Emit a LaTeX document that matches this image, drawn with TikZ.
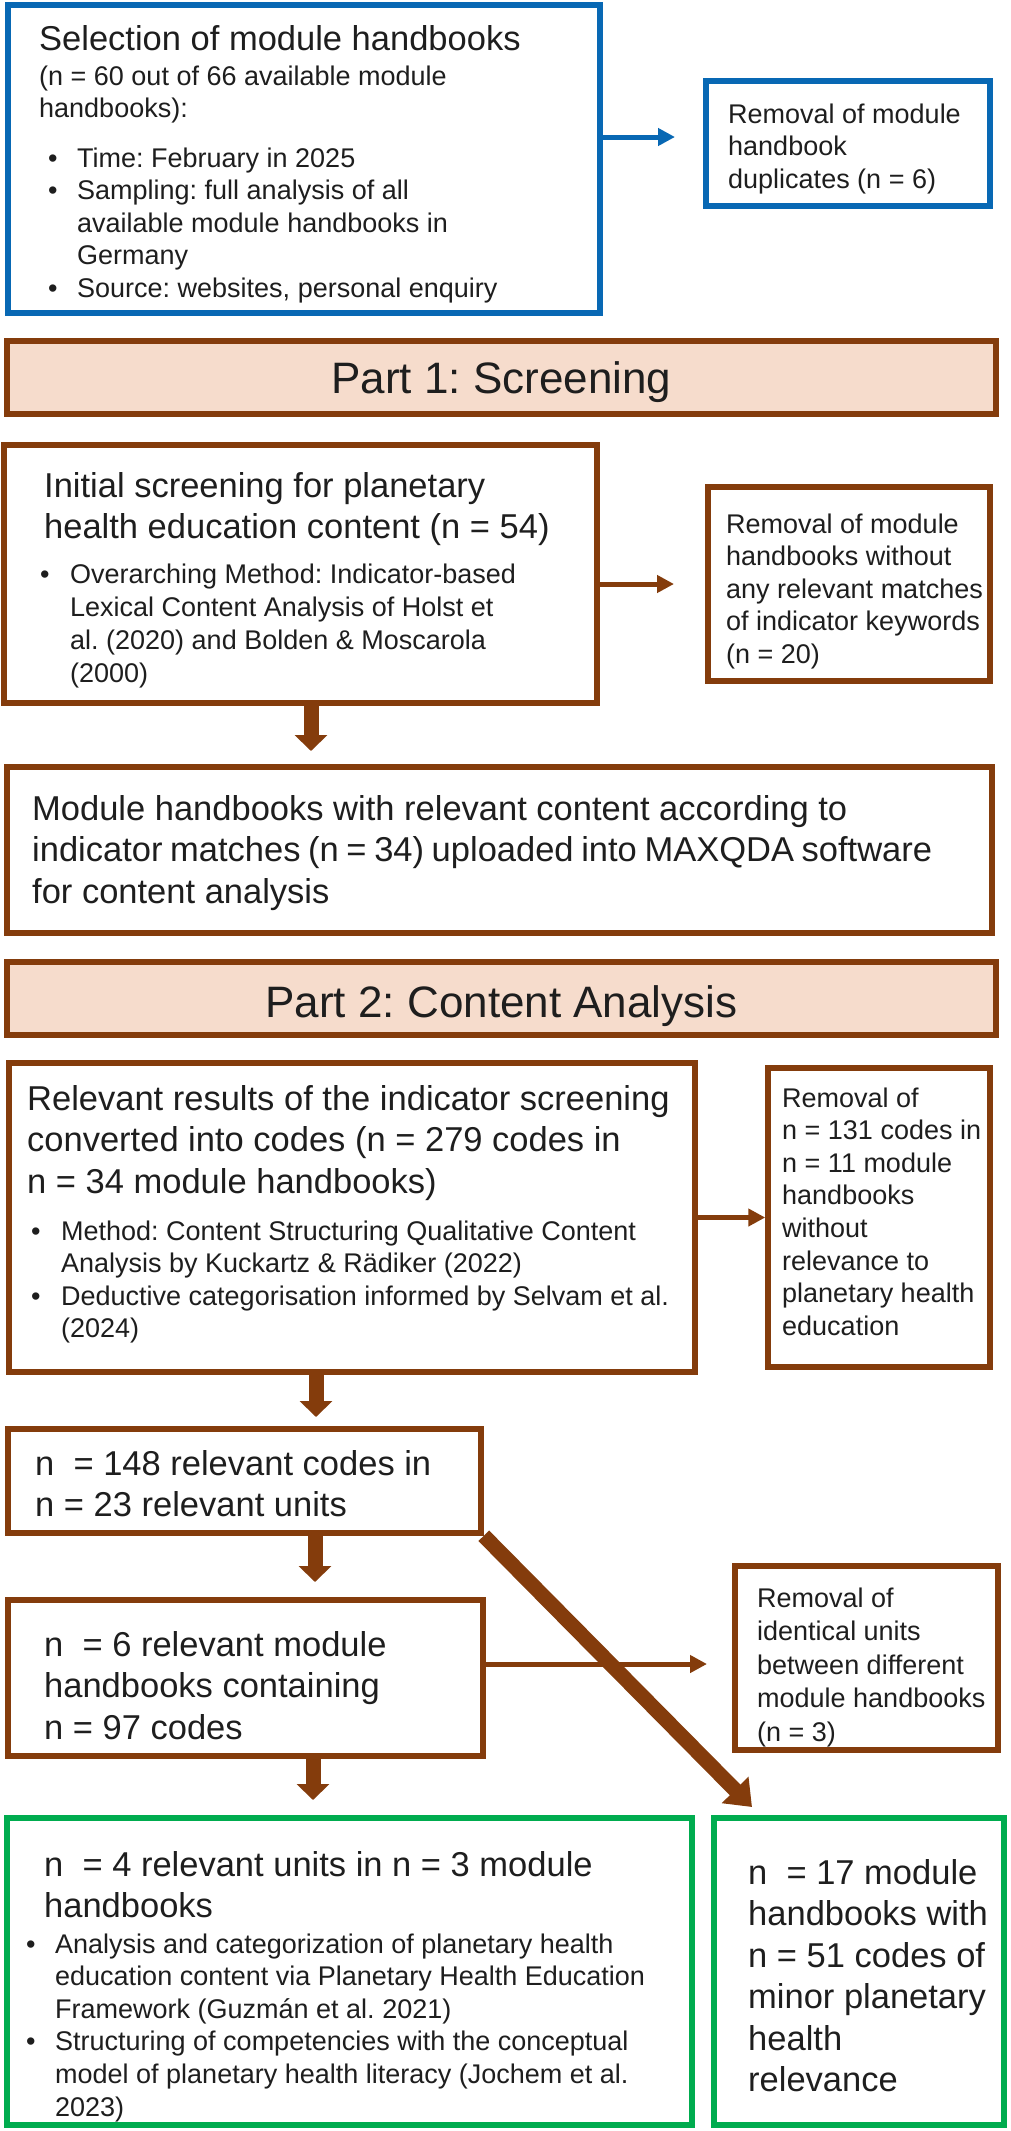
\documentclass[tikz,border=0pt]{standalone}
\usepackage{fontspec}
\setmainfont{Liberation Sans}
\usetikzlibrary{arrows.meta,calc}
\definecolor{cblue}{HTML}{0868B4}
\definecolor{cbrown}{HTML}{843C0C}
\definecolor{cgreen}{HTML}{00AC4F}
\definecolor{cpeach}{HTML}{F6DCCC}
\definecolor{ctext}{HTML}{1E1E1E}
\frenchspacing
\newcommand\txL{\fontsize{34.5}{41.5}\selectfont}
\newcommand\txS{\fontsize{27}{32.6}\selectfont}
\newcommand\txB{\fontsize{44}{52}\selectfont}
\newlength\bind
\newcommand\bitem[1]{\par\noindent\hangindent=\bind\hangafter=1\makebox[\bind][l]{\textbullet}#1}
\newcommand\tb[1]{\parbox[t]{900pt}{\parindent=0pt\parskip=0pt #1}}
\begin{document}
\begin{tikzpicture}[x=1pt,y=-1pt,
  every node/.style={text=ctext},
  tx/.style={inner sep=0pt, anchor=base west},
  bbox/.style={draw=cblue, line width=5.5pt, inner sep=0pt},
  rbox/.style={draw=cbrown, line width=5.5pt, inner sep=0pt},
  gbox/.style={draw=cgreen, line width=5.5pt, inner sep=0pt},
  band/.style={draw=cbrown, fill=cpeach, line width=5.5pt, inner sep=0pt},
  barrow/.style={cblue, line width=5pt, -{Triangle[length=17pt,width=17pt]}},
  tarrow/.style={cbrown, line width=5pt, -{Triangle[length=17pt,width=17pt]}},
  darrow/.style={cbrown, line width=15pt, -{Triangle[length=16pt,width=32pt]}},
  diagarrow/.style={cbrown, line width=15pt, -{Triangle[length=24pt,width=36pt]}}]
\useasboundingbox (0,0) rectangle (1010,2131);
\fill[white] (0,0) rectangle (1010,2131);

% boxes
\node[bbox, minimum width=592pt, minimum height=308pt] (b1) at (304,159) {};
\node[bbox, minimum width=284pt, minimum height=125pt] (dup) at (848,143.5) {};
\node[band, minimum width=989pt, minimum height=73pt] (band1) at (501.5,377.5) {};
\node[rbox, minimum width=593pt, minimum height=258pt] (init) at (300.5,574) {};
\node[rbox, minimum width=282pt, minimum height=194pt] (rem20) at (849,584) {};
\node[rbox, minimum width=985pt, minimum height=166pt] (mod) at (499.5,850) {};
\node[band, minimum width=989pt, minimum height=73pt] (band2) at (501.5,998.5) {};
\node[rbox, minimum width=686pt, minimum height=309pt] (rel) at (352,1217.5) {};
\node[rbox, minimum width=222pt, minimum height=299pt] (rem131) at (879,1217.5) {};
\node[rbox, minimum width=473pt, minimum height=104pt] (b148) at (244.5,1481) {};
\node[rbox, minimum width=475pt, minimum height=156pt] (b6) at (245.5,1678) {};
\node[rbox, minimum width=263pt, minimum height=184pt] (rem3) at (866.5,1658) {};
\node[gbox, minimum width=685pt, minimum height=307pt] (gl) at (349.5,1971.5) {};
\node[gbox, minimum width=290pt, minimum height=307pt] (gr) at (859,1971.5) {};

% connectors
\coordinate (a1e) at (675,137);
\draw[barrow] (b1.east |- a1e) -- (a1e);
\coordinate (a2e) at (674,584);
\draw[tarrow] (init.east |- a2e) -- (a2e);
\coordinate (d1e) at (311,751);
\draw[darrow] (init.south -| d1e) -- (d1e);
\draw[tarrow] (rel.east) -- (rem131.west);
\coordinate (d2e) at (316,1417);
\draw[darrow] (rel.south -| d2e) -- (d2e);
\coordinate (d3e) at (315,1582);
\draw[darrow] (b148.south -| d3e) -- (d3e);
\coordinate (a4e) at (707,1664);
\draw[tarrow] (b6.east |- a4e) -- (a4e);
\coordinate (d4e) at (313,1800);
\draw[darrow] (b6.south -| d4e) -- (d4e);
\coordinate (dge) at (752,1807);
\draw[diagarrow] (b148.south east) -- (dge);

% texts
\node[tx] (t1a) at (39,50) {\txL Selection of module handbooks};
\node[tx] (t1b) at (39,85) {\tb{\txS (n = 60 out of 66 available module\\handbooks):}};
\node[tx] (t1c) at (48,167) {\setlength\bind{29pt}\tb{\txS\bitem{Time: February in 2025}\bitem{Sampling: full analysis of all\\available module handbooks in\\Germany}\bitem{Source: websites, personal enquiry}}};
\node[tx] (tdup) at (728,123) {\tb{\txS Removal of module\\handbook\\duplicates (n = 6)}};
\node[inner sep=0pt, anchor=base] (tband1) at (501.5,393) {\txB Part 1: Screening};
\node[tx] (tinit) at (44,497) {\tb{\txL Initial screening for planetary\\health education content (n = 54)}};
\node[tx] (tinitb) at (40,583) {\setlength\bind{30pt}\tb{\txS\baselineskip=33pt\bitem{Overarching Method: Indicator-based\\Lexical Content Analysis of Holst et\\al. (2020) and Bolden \& Moscarola\\(2000)}}};
\node[tx] (trem20) at (726,533) {\tb{\txS Removal of module\\handbooks without\\any relevant matches\\of indicator keywords\\(n = 20)}};
\node[tx] (tmod) at (32,820) {\tb{\txL Module handbooks with relevant content according to\\indicator matches (n = 34) uploaded into MAXQDA software\\for content analysis}};
\node[inner sep=0pt, anchor=base] (tband2) at (501.5,1017) {\txB Part 2: Content Analysis};
\node[tx] (trel) at (27,1110) {\tb{\txL Relevant results of the indicator screening\\converted into codes (n = 279 codes in\\n = 34 module handbooks)}};
\node[tx] (trelb) at (31,1240) {\setlength\bind{30pt}\tb{\txS\bitem{Method: Content Structuring Qualitative Content\\Analysis by Kuckartz \& Rädiker (2022)}\bitem{Deductive categorisation informed by Selvam et al.\\(2024)}}};
\node[tx] (trem131) at (782,1107) {\tb{\txS Removal of\\n = 131 codes in\\n = 11 module\\handbooks\\without\\relevance to\\planetary health\\education}};
\node[tx] (t148) at (35,1475) {\tb{\txL n\ \ = 148 relevant codes in\\n = 23 relevant units}};
\node[tx] (t6) at (44,1656) {\tb{\txL n\ \ = 6 relevant module\\handbooks containing\\n = 97 codes}};
\node[tx] (trem3) at (757,1607) {\tb{\txS\baselineskip=33.5pt Removal of\\identical units\\between different\\module handbooks\\(n = 3)}};
\node[tx] (tgl) at (44,1876) {\tb{\txL n\ \ = 4 relevant units in n = 3 module\\handbooks}};
\node[tx] (tglb) at (26,1953) {\setlength\bind{29pt}\tb{\txS\bitem{Analysis and categorization of planetary health\\education content via Planetary Health Education\\Framework (Guzmán et al. 2021)}\bitem{Structuring of competencies with the conceptual\\model of planetary health literacy (Jochem et al.\\2023)}}};
\node[tx] (tgr) at (748,1884) {\tb{\txL n\ \ = 17 module\\handbooks with\\n = 51 codes of\\minor planetary\\health\\relevance}};
\end{tikzpicture}
\end{document}
